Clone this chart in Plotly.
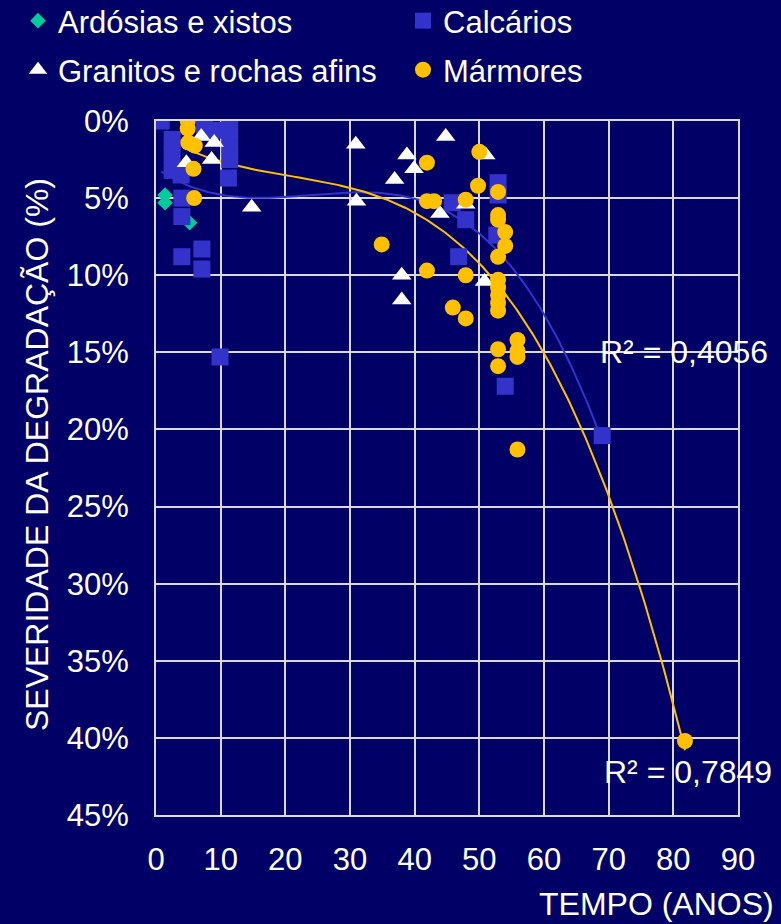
import numpy as np
import plotly.graph_objects as go

# ---------------- data ----------------
ardosias_x = [1.4, 1.4, 5.2]
ardosias_y = [4.8, 5.3, 6.6]

calcarios_x = [0.8, 2.5, 2.5, 2.5, 7.5, 9.5, 11.4, 11.4, 11.4, 11.2, 3.9, 4.0, 4.0, 4.0,
               7.1, 7.1, 9.9, 45.8, 47.9, 52.9, 52.9, 52.7, 46.8, 54.0, 69.0]
calcarios_y = [0.0, 1.2, 2.2, 3.2, 0.5, 0.6, 0.5, 1.5, 2.5, 3.7, 3.5, 5.0, 6.2, 8.8,
               8.3, 9.6, 15.3, 5.3, 6.4, 4.0, 4.8, 7.4, 8.8, 17.2, 20.4]

granitos_x = [7.0, 9.0, 4.7, 8.6, 14.8, 30.9, 31.0, 36.9, 38.8, 39.9, 44.8, 43.9, 47.9,
              51.0, 38.0, 38.0, 50.8]
granitos_y = [1.0, 1.4, 2.7, 2.5, 5.6, 1.5, 5.2, 3.8, 2.2, 3.1, 1.0, 6.0, 5.4,
              2.2, 10.0, 11.6, 10.4]

marmores_x = [4.9, 4.9, 5.0, 6.0, 5.8, 5.9, 34.9, 41.9, 41.9, 43.0, 41.9, 45.9, 47.9, 47.9,
              47.9, 49.8, 50.0, 52.9, 52.9, 52.9, 54.0, 54.0, 52.9, 52.9, 52.9, 52.9, 52.9,
              52.9, 52.9, 52.9, 55.9, 55.9, 55.9, 55.9, 81.8]
marmores_y = [0.0, 0.5, 1.4, 1.6, 3.1, 5.0, 8.0, 2.7, 5.2, 5.2, 9.7, 12.1, 5.1, 10.0,
              12.8, 4.2, 2.0, 4.6, 6.1, 6.4, 7.2, 8.1, 8.8, 10.3, 10.8, 11.3, 11.8,
              12.3, 14.8, 15.9, 14.2, 14.9, 15.3, 21.3, 40.2]

r2_calcarios = "R² = 0,4056"
r2_marmores = "R² = 0,7849"

x_ticks = [0, 10, 20, 30, 40, 50, 60, 70, 80, 90]
y_ticks = [0, 5, 10, 15, 20, 25, 30, 35, 40, 45]

# ---------------- colours ----------------
BG = "#000066"
BLUE = "#3333CC"
GOLD = "#FFC000"
GREEN = "#00CC99"
GRID = "#D9D9D9"
FONT = "Liberation Sans, Arial, sans-serif"

# polynomial trend lines (as in the spreadsheet)
def trend(xs, ys, deg):
    c = np.polyfit(xs, ys, deg)
    xx = np.linspace(min(xs), max(xs), 200)
    return xx, np.polyval(c, xx)

tcx, tcy = trend(calcarios_x, calcarios_y, 3)
tmx, tmy = trend(marmores_x, marmores_y, 3)

fig = go.Figure()

fig.add_trace(go.Scatter(x=tcx, y=tcy, mode="lines", line=dict(color=BLUE, width=2),
                         showlegend=False, hoverinfo="skip"))
fig.add_trace(go.Scatter(x=tmx, y=tmy, mode="lines", line=dict(color=GOLD, width=2),
                         showlegend=False, hoverinfo="skip"))

fig.add_trace(go.Scatter(x=ardosias_x, y=ardosias_y, mode="markers", name="Ardósias e xistos",
                         marker=dict(symbol="diamond", size=12, color=GREEN), legend="legend"))
fig.add_trace(go.Scatter(x=calcarios_x, y=calcarios_y, mode="markers", name="Calcários",
                         marker=dict(symbol="square", size=17, color=BLUE), legend="legend2"))
fig.add_trace(go.Scatter(x=granitos_x, y=granitos_y, mode="markers", name="Granitos e rochas afins",
                         marker=dict(symbol="triangle-up", size=17, color="white"), legend="legend3"))
fig.add_trace(go.Scatter(x=marmores_x, y=marmores_y, mode="markers", name="Mármores",
                         marker=dict(symbol="circle", size=16, color=GOLD), legend="legend4"))

L, R, T, B = 156, 43, 121, 109
W, H = 781, 924
pw, ph = W - L - R, H - T - B

def px2paper(px, py):
    return (px - L) / pw, (H - B - py) / ph

def legend_at(px_left, py_top):
    return dict(orientation="h", xref="container", yref="paper", xanchor="left",
                yanchor="top", x=px_left / W, y=(H - B - py_top) / ph,
                bgcolor="rgba(0,0,0,0)", borderwidth=0, itemsizing="trace",
                font=dict(family=FONT, size=31, color="white"))

axis_common = dict(showgrid=True, gridcolor=GRID, gridwidth=2, zeroline=False,
                   showline=True, linecolor=GRID, linewidth=2, mirror=True,
                   tickfont=dict(family=FONT, size=31, color="white"), ticks="")

fig.update_layout(
    width=W, height=H,
    margin=dict(l=L, r=R, t=T, b=B, autoexpand=False),
    paper_bgcolor=BG, plot_bgcolor=BG,
    font=dict(family=FONT, color="white"),
    legend=legend_at(18, -6),
    legend2=legend_at(403, -6),
    legend3=legend_at(18, 43),
    legend4=legend_at(403, 43),
    xaxis=dict(range=[0, 90], tickvals=x_ticks, ticktext=[str(v) for v in x_ticks],
               ticklabelstandoff=16, automargin=False, **axis_common),
    yaxis=dict(range=[45, 0], tickvals=y_ticks, ticktext=[f"{v}%" for v in y_ticks],
               ticklabelstandoff=19, automargin=False, **axis_common),
)

ax, ay = px2paper(37, 455)
fig.add_annotation(text="SEVERIDADE DA DEGRADAÇÃO (%)", xref="paper", yref="paper", x=ax, y=ay,
                   textangle=-90, showarrow=False, xanchor="center", yanchor="middle",
                   font=dict(family=FONT, size=32, color="white"))
bx, by = px2paper(656, 904)
fig.add_annotation(text="TEMPO (ANOS)", xref="paper", yref="paper", x=bx, y=by,
                   showarrow=False, xanchor="center", yanchor="middle",
                   font=dict(family=FONT, size=32, color="white"))
cx, cy = px2paper(683.5, 352)
fig.add_annotation(text=r2_calcarios, xref="paper", yref="paper", x=cx, y=cy,
                   showarrow=False, xanchor="center", yanchor="middle",
                   font=dict(family=FONT, size=32, color="white"))
mx, my = px2paper(687.5, 772)
fig.add_annotation(text=r2_marmores, xref="paper", yref="paper", x=mx, y=my,
                   showarrow=False, xanchor="center", yanchor="middle",
                   font=dict(family=FONT, size=32, color="white"))

fig.write_html("out.html",
               config={"displayModeBar": False},
               post_script="document.body.style.margin='0px';"
                           "document.body.style.background='" + BG + "';")
